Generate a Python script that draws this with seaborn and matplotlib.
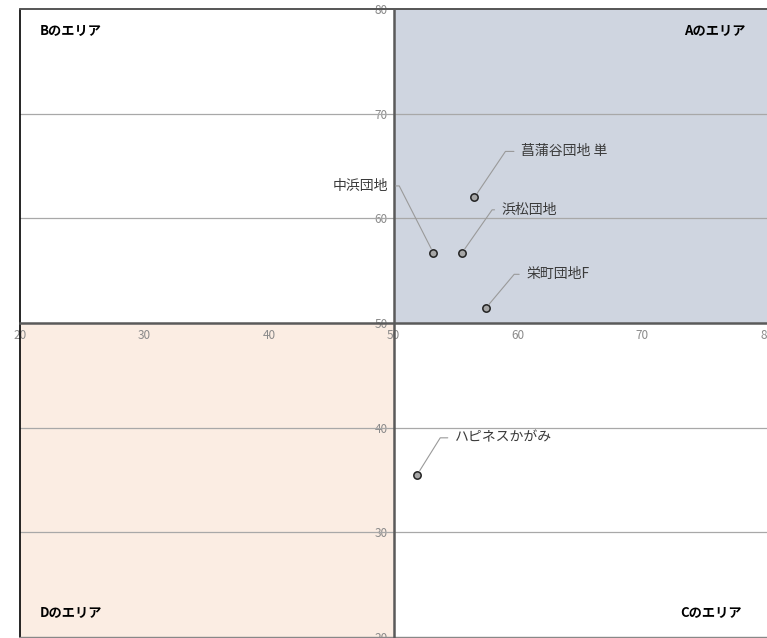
import numpy as np
import pandas as pd
import matplotlib
matplotlib.use("Agg")
import matplotlib.pyplot as plt
import seaborn as sns

# データ
names = ["菖蒲谷団地 単", "中浜団地", "浜松団地", "栄町団地F", "ハピネスかがみ"]
x_vals = [56.5, 53.2, 55.5, 57.4, 51.9]
y_vals = [62.0, 56.7, 56.7, 51.4, 35.5]

area_names = ["Aのエリア", "Bのエリア", "Cのエリア", "Dのエリア"]
ticks = [20, 30, 40, 50, 60, 70, 80]
center = 50

# ラベルの位置 (offset points) と引き出し線の角度
label_dx = [33.8, -32.4, 28.8, 29.5, 27.4]
label_dy = [33.1, 48.2, 31.0, 24.5, 26.6]
leader_angle = [56, 117, 55, 50, 58]

df = pd.DataFrame({"name": names, "x": x_vals, "y": y_vals})

sns.set_style("white")
plt.rcParams["font.family"] = ["Noto Sans CJK JP", "DejaVu Sans"]

fig = plt.figure(figsize=(7.67, 6.38), dpi=100)
ax = fig.add_axes([20 / 767, 1 / 638, 747 / 767, 628 / 638])

lo, hi = ticks[0], ticks[-1]
ax.set_xlim(lo, hi)
ax.set_ylim(lo, hi)

# 象限の塗り
ax.fill_between([center, hi], center, hi, color="#cfd5e0", zorder=0, linewidth=0)
ax.fill_between([lo, center], lo, center, color="#fbede3", zorder=0, linewidth=0)

# 横グリッド
for t in ticks:
    if t not in (lo, hi, center):
        ax.axhline(t, color="#a8a8a8", lw=0.9, zorder=1)

# 外枠
ax.axvline(lo, color="black", lw=1.2, clip_on=False, zorder=3)
ax.axhline(hi, color="#555555", lw=1.4, clip_on=False, zorder=3)
ax.axhline(lo, color="#888888", lw=1.0, clip_on=False, zorder=3)

# 中央の軸
for s in ["top", "right"]:
    ax.spines[s].set_visible(False)
ax.spines["left"].set_position(("data", center))
ax.spines["bottom"].set_position(("data", center))
for s in ["left", "bottom"]:
    ax.spines[s].set_color("#5a5a5a")
    ax.spines[s].set_linewidth(1.8)
    ax.spines[s].set_zorder(4)

ax.set_xticks(ticks)
ax.set_yticks(ticks)
ax.tick_params(axis="both", length=2.5, width=1.2, color="black",
               labelsize=8.5, labelcolor="#8a8a8a", pad=1.5)

sns.scatterplot(data=df, x="x", y="y", ax=ax, s=28, color="#a6a6a6",
                edgecolor="#222222", linewidth=1.1, zorder=5, legend=False)
ax.set_xlabel("")
ax.set_ylabel("")

for n, px, py, dx, dy, ang in zip(names, x_vals, y_vals, label_dx, label_dy, leader_angle):
    left = dx > 0
    ax.annotate(n, xy=(px, py), xytext=(dx, dy), textcoords="offset points",
                ha="left" if left else "right", va="center",
                fontsize=10, color="#3a3a3a", zorder=6,
                arrowprops=dict(arrowstyle="-", color="#9a9a9a", lw=0.8,
                                relpos=(0, 0.5) if left else (1, 0.5),
                                shrinkA=3, shrinkB=3.5,
                                connectionstyle=f"angle,angleA=0,angleB={ang},rad=0"))

# エリア名
area_pos = [(0.971, 0.967, "right"), (0.027, 0.967, "left"),
            (0.967, 0.04, "right"), (0.027, 0.04, "left")]
for a, (tx, ty, ha) in zip(area_names, area_pos):
    ax.text(tx, ty, a, transform=ax.transAxes, ha=ha, va="center",
            fontsize=9.5, fontweight="bold", color="black", zorder=6)

fig.savefig("out.png", dpi=100)
